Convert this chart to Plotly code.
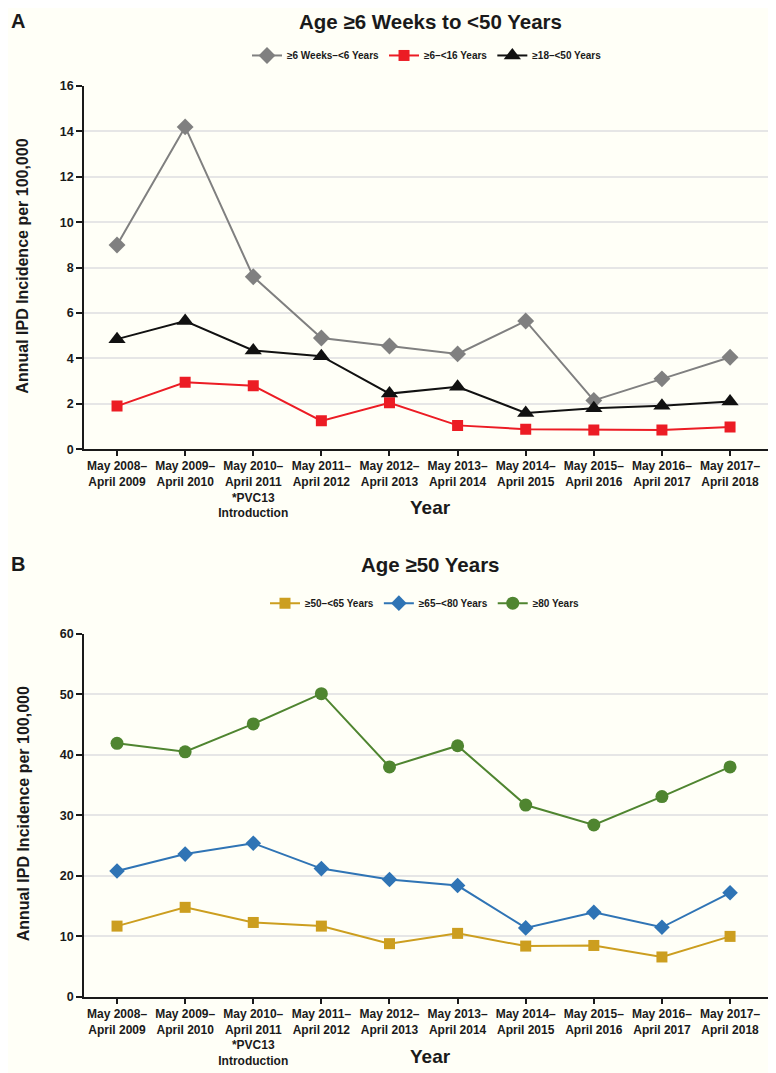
import plotly.graph_objects as go

# ── Data ──────────────────────────────────────────────────────────────────────
SEASONS = [
    "May 2008–<br>April 2009", "May 2009–<br>April 2010",
    "May 2010–<br>April 2011<br>*PVC13<br>Introduction",
    "May 2011–<br>April 2012", "May 2012–<br>April 2013", "May 2013–<br>April 2014",
    "May 2014–<br>April 2015", "May 2015–<br>April 2016", "May 2016–<br>April 2017",
    "May 2017–<br>April 2018",
]
X = list(range(len(SEASONS)))

# Panel A
A_6W_6Y = [9.0, 14.2, 7.6, 4.9, 4.55, 4.2, 5.65, 2.15, 3.1, 4.05]
A_6_16 = [1.9, 2.95, 2.8, 1.25, 2.05, 1.05, 0.88, 0.85, 0.85, 0.98]
A_18_50 = [4.85, 5.65, 4.35, 4.1, 2.45, 2.75, 1.6, 1.8, 1.92, 2.1]

# Panel B
B_50_65 = [11.7, 14.8, 12.3, 11.7, 8.8, 10.5, 8.4, 8.5, 6.6, 10.0]
B_65_80 = [20.8, 23.6, 25.4, 21.2, 19.4, 18.4, 11.4, 14.0, 11.5, 17.2]
B_80 = [41.9, 40.5, 45.1, 50.1, 38.0, 41.5, 31.7, 28.4, 33.1, 38.0]

# ── Style ─────────────────────────────────────────────────────────────────────
FONT = "Liberation Sans Narrow, Arial Narrow, Liberation Sans, Arial, sans-serif"
BG = "#fffff7"
INK = "#1a1a1a"
OFF = 8                      # page body margin
W, H = 776 - OFF, 1073 - OFF


def py(v):  # page pixel row -> paper fraction
    return 1 - (v - OFF) / H


def px_(v):  # page pixel column -> paper fraction
    return (v - OFF) / W


fig = go.Figure()


def add_line(y, name, color, symbol, size, xa, ya, legend):
    fig.add_trace(go.Scatter(
        x=X, y=y, name=name, mode="lines+markers",
        line=dict(color=color, width=2),
        marker=dict(symbol=symbol, size=size, color=color),
        xaxis=xa, yaxis=ya, legend=legend,
    ))


add_line(A_6W_6Y, "≥6 Weeks–<6 Years", "#808080", "diamond", 13, "x", "y", "legend")
add_line(A_6_16, "≥6–<16 Years", "#ec1c24", "square", 11, "x", "y", "legend")
add_line(A_18_50, "≥18–<50 Years", "#111111", "triangle-up", 15, "x", "y", "legend")

add_line(B_50_65, "≥50–<65 Years", "#cc9e1f", "square", 11, "x2", "y2", "legend2")
add_line(B_65_80, "≥65–<80 Years", "#2f74b5", "diamond", 12, "x2", "y2", "legend2")
add_line(B_80, "≥80 Years", "#4f8530", "circle", 13, "x2", "y2", "legend2")

xax = dict(
    domain=[px_(84), px_(775)], range=[-0.485, 9.66],
    tickmode="array", tickvals=X, ticktext=SEASONS,
    ticks="outside", ticklen=5, tickcolor=INK, tickwidth=1.5,
    showline=True, linecolor=INK, linewidth=1.5,
    showgrid=False, zeroline=False,
    tickfont=dict(family=FONT, size=12, color=INK, weight="bold"),
)
yax = dict(
    ticks="outside", ticklen=6, tickcolor=INK, tickwidth=1.5,
    showline=True, linecolor=INK, linewidth=1.5,
    showgrid=True, gridcolor="#e6e6e6", gridwidth=1.5, zeroline=False,
    tickfont=dict(family=FONT, size=12.5, color=INK, weight="bold"),
)
leg = dict(
    orientation="h", xanchor="center", yanchor="middle",
    bgcolor="rgba(0,0,0,0)", itemwidth=30,
    font=dict(family=FONT, size=10, color=INK, weight="bold"),
)

fig.update_layout(
    width=W, height=H, paper_bgcolor=BG, plot_bgcolor=BG,
    margin=dict(l=0, r=0, t=0, b=0), showlegend=True,
    xaxis={**xax, "anchor": "y"},
    yaxis={**yax, "domain": [py(448), py(80)], "range": [0, 16], "dtick": 2, "anchor": "x"},
    xaxis2={**xax, "anchor": "y2"},
    yaxis2={**yax, "domain": [py(1003), py(635)], "range": [0, 60], "dtick": 10, "anchor": "x2"},
    legend={**leg, "x": px_(427), "y": py(49)},
    legend2={**leg, "x": px_(425), "y": py(604)},
)

# titles / labels
ann = []
for top, letter, title, yr in [(14, "A", "Age ≥6 Weeks to <50 Years", 507),
                               (564, "B", "Age ≥50 Years", 1063)]:
    ann.append(dict(text=letter, x=px_(8.5), y=py(top), xanchor="left", yanchor="middle",
                    font=dict(family=FONT, size=20, color=INK, weight="bold")))
    ann.append(dict(text=title, x=px_(430), y=py(top + 1), xanchor="center", yanchor="middle",
                    font=dict(family=FONT, size=20.5, color=INK, weight="bold")))
    ann.append(dict(text="Year", x=px_(430), y=py(yr), xanchor="center", yanchor="middle",
                    font=dict(family=FONT, size=19, color=INK, weight="bold")))
for mid in [263, 818]:
    ann.append(dict(text="Annual IPD Incidence per 100,000", x=px_(23), y=py(mid),
                    textangle=-90, xanchor="center", yanchor="middle",
                    font=dict(family=FONT, size=16, color=INK, weight="bold")))
for a in ann:
    a.update(xref="paper", yref="paper", showarrow=False)
fig.update_layout(annotations=ann)

fig.write_html("out.html")
